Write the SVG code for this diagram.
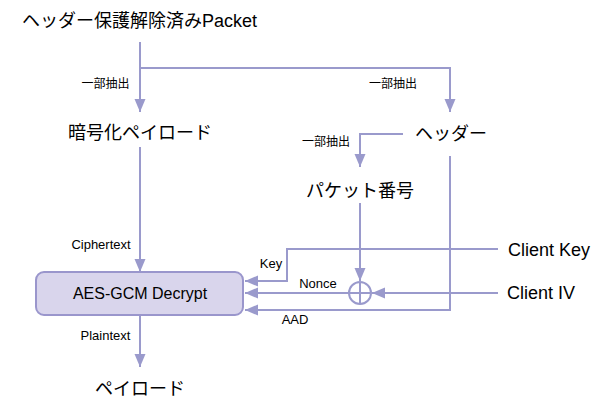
<svg xmlns="http://www.w3.org/2000/svg" width="604" height="408" viewBox="0 0 604 408">
<defs>
<style>
text{font-family:"Liberation Sans","Noto Sans CJK JP",sans-serif;fill:#000}
.big{font-size:18px}
.mid{font-size:16px}
.sm{font-size:13px}
.jp{font-size:12px}
.c{text-anchor:middle}
.ln{fill:none;stroke:#9a9acc;stroke-width:2}
</style>
<marker id="ah" markerUnits="userSpaceOnUse" markerWidth="14" markerHeight="12" viewBox="0 0 14 12" refX="13" refY="6" orient="auto">
<path d="M0,0.5 L13,6 L0,11.5 Z" fill="#9a9acc"/>
</marker>
</defs>
<rect width="604" height="408" fill="#fff"/>
<g id="connectors">
<path class="ln" d="M140,42 V112" marker-end="url(#ah)"/>
<path class="ln" d="M140,68 H450 V112" marker-end="url(#ah)"/>
<path class="ln" d="M403,134 H360 V167" marker-end="url(#ah)"/>
<path class="ln" d="M140,147 V272" marker-end="url(#ah)"/>
<path class="ln" d="M450,156 V310 H245" marker-end="url(#ah)"/>
<path class="ln" d="M360,203 V281" marker-end="url(#ah)"/>
<path class="ln" d="M498,249 H287 V281 H245" marker-end="url(#ah)"/>
<path class="ln" d="M498,293 H372" marker-end="url(#ah)"/>
<path class="ln" d="M349,293 H245" marker-end="url(#ah)"/>
<path class="ln" d="M140,315 V367" marker-end="url(#ah)"/>
<text class="jp c" x="105.5" y="87.5">一部抽出</text>
<text class="jp c" x="393" y="87.5">一部抽出</text>
<text class="jp c" x="326" y="145.5">一部抽出</text>
<text class="sm c" x="101" y="248.5">Ciphertext</text>
<text class="sm c" x="271" y="267.5">Key</text>
<text class="sm c" x="318" y="287.5">Nonce</text>
<text class="sm c" x="295" y="323.5">AAD</text>
<text class="sm c" x="105.5" y="339.5">Plaintext</text>
</g>
<g id="packet"><text class="big" x="22" y="27">ヘッダー保護解除済みPacket</text></g>
<g id="payload-enc"><text class="big c" x="140" y="139">暗号化ペイロード</text></g>
<g id="header"><text class="big c" x="451" y="140">ヘッダー</text></g>
<g id="pn"><text class="big c" x="360" y="197">パケット番号</text></g>
<g id="xor">
<circle cx="360" cy="293" r="11" fill="none" stroke="#9a9acc" stroke-width="2"/>
<path d="M349,293 H371 M360,282 V304" stroke="#9a9acc" stroke-width="2"/>
</g>
<g id="aes">
<rect x="36" y="272" width="207" height="43" rx="8" ry="8" fill="#d9d5ec" stroke="#9a96cc" stroke-width="2"/>
<text class="mid c" x="140" y="299">AES-GCM Decrypt</text>
</g>
<g id="client-key"><text class="big" x="508" y="255.5">Client Key</text></g>
<g id="client-iv"><text class="big" x="507" y="299">Client IV</text></g>
<g id="payload"><text class="big c" x="140" y="395">ペイロード</text></g>
</svg>
